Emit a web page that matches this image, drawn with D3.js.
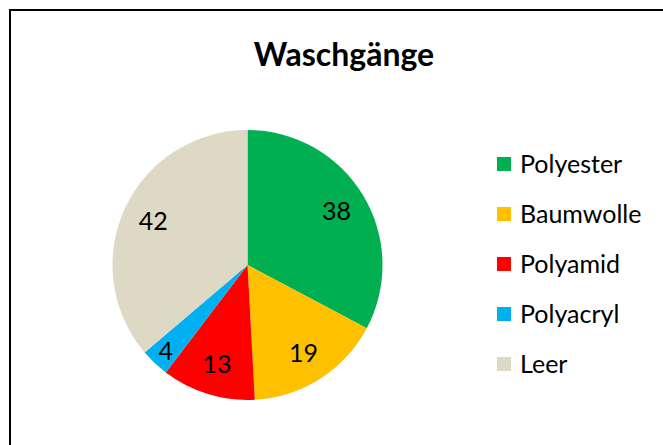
<!DOCTYPE html>
<html>
<head>
<meta charset="utf-8">
<script src="https://cdn.jsdelivr.net/npm/d3@7"></script>
<style>
  html, body { margin: 0; padding: 0; background: #fff; }
  svg { display: block; }
  text { font-family: Lato, "Open Sans", sans-serif; fill: #000; }
</style>
</head>
<body>
<script>
const title = "Waschgänge";
const categories = ["Polyester", "Baumwolle", "Polyamid", "Polyacryl", "Leer"];
const values = [38, 19, 13, 4, 42];
const colors = ["#00B050", "#FFC000", "#FF0000", "#00B0F0", "#DDD9C4"];

const W = 663, H = 445;
const svg = d3.select("body").append("svg").attr("width", W).attr("height", H);

// chart frame
svg.append("rect").attr("x", 10).attr("y", 10).attr("width", 720).attr("height", 520)
  .attr("fill", "#fff").attr("stroke", "#000").attr("stroke-width", 2);

// title
svg.append("text").attr("x", 344).attr("y", 66).attr("text-anchor", "middle")
  .style("font-size", "32px").style("font-weight", "bold").text(title);

const cx = 247.5, cy = 265, r = 135;
const data = categories.map((c, i) => ({ name: c, value: values[i], color: colors[i] }));
const total = d3.sum(values);

const pie = d3.pie().value(d => d.value).sort(null);
const arc = d3.arc().innerRadius(0).outerRadius(r);
const arcs = pie(data);

const g = svg.append("g").attr("transform", `translate(${cx},${cy})`);
g.selectAll("path").data(arcs).join("path")
  .attr("d", arc).attr("fill", d => d.data.color);

g.selectAll("text.lbl").data(arcs).join("text").attr("class", "lbl")
  .attr("transform", d => {
    const share = d.data.value / total;
    const lr = share < 0.05 ? r * 0.88 : r * 0.77;
    const a = (d.startAngle + d.endAngle) / 2;
    return `translate(${Math.sin(a) * lr},${-Math.cos(a) * lr})`;
  })
  .attr("text-anchor", "middle").attr("dy", "0.36em")
  .style("font-size", "25px").text(d => d.data.value);

// legend
const ly = d3.scalePoint().domain(categories).range([164, 364]);
const leg = svg.append("g");
const items = leg.selectAll("g").data(data).join("g")
  .attr("transform", d => `translate(497,${ly(d.name)})`);
items.append("rect").attr("x", 0).attr("y", -7).attr("width", 14).attr("height", 14)
  .attr("fill", d => d.color);
items.append("text").attr("x", 23).attr("dy", "0.36em")
  .style("font-size", "25px").text(d => d.name);
</script>
</body>
</html>
